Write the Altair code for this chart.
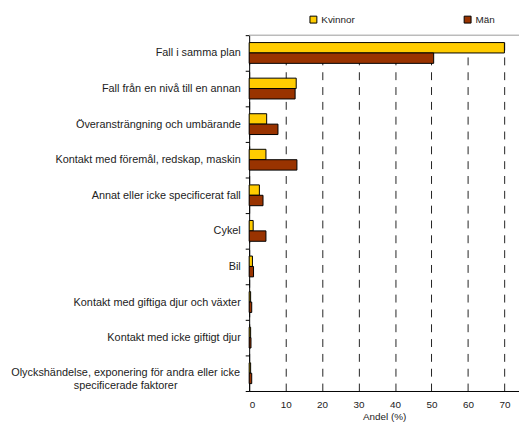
import altair as alt
import pandas as pd

categories = [
    "Fall i samma plan",
    "Fall från en nivå till en annan",
    "Överansträngning och umbärande",
    "Kontakt med föremål, redskap, maskin",
    "Annat eller icke specificerat fall",
    "Cykel",
    "Bil",
    "Kontakt med giftiga djur och växter",
    "Kontakt med icke giftigt djur",
    "Olyckshändelse, exponering för andra eller icke\nspecificerade faktorer",
]
kvinnor = [70.0, 12.9, 4.8, 4.6, 2.8, 1.1, 0.9, 0.4, 0.4, 0.4]
man = [50.6, 12.6, 7.9, 13.1, 3.8, 4.6, 1.2, 0.7, 0.5, 0.7]
series = ["Kvinnor", "Män"]
colors = ["#FFCC00", "#993300"]
x_ticks = [0, 10, 20, 30, 40, 50, 60, 70]

rows = []
for c, k, m in zip(categories, kvinnor, man):
    rows.append({"kategori": c, "kon": series[0], "andel": k})
    rows.append({"kategori": c, "kon": series[1], "andel": m})
df = pd.DataFrame(rows)
multi = pd.DataFrame({"kategori": [c for c in categories if "\n" in c]})

FONT = "Liberation Sans"
W, H = 273, 360

y_enc = alt.Y(
    "kategori:N",
    sort=categories,
    scale=alt.Scale(paddingInner=0, paddingOuter=0),
    axis=alt.Axis(
        title=None,
        tickBand="extent",
        labelExpr="indexof(datum.label, '\\n') >= 0 ? '' : datum.label",
        labelFont=FONT,
        labelFontSize=11,
        labelColor="#222",
        labelPadding=5,
        labelLimit=300,
        tickColor="black",
        tickSize=4,
        domainColor="black",
        grid=False,
    ),
)

bars = alt.Chart(df).mark_bar(stroke="black", strokeWidth=1).encode(
    y=y_enc,
    yOffset=alt.YOffset(
        "kon:N", sort=series, scale=alt.Scale(paddingInner=0, paddingOuter=0.71)
    ),
    x=alt.X(
        "andel:Q",
        scale=alt.Scale(domain=[0, 74], nice=False),
        axis=alt.Axis(
            values=x_ticks,
            grid=True,
            gridDash=[8, 7],
            gridColor="#222",
            gridWidth=1,
            ticks=False,
            domainColor="black",
            title="Andel (%)",
            titleFont=FONT,
            titleFontSize=10,
            titleFontWeight="normal",
            titleColor="#222",
            titlePadding=2,
            labelFont=FONT,
            labelFontSize=10,
            labelColor="#222",
            labelPadding=9,
            format="d",
        ),
    ),
    color=alt.Color(
        "kon:N",
        scale=alt.Scale(domain=series, range=colors),
        legend=alt.Legend(
            title=None,
            orient="none",
            legendX=60,
            legendY=-21,
            direction="horizontal",
            symbolType="square",
            symbolSize=49,
            symbolStrokeColor="black",
            symbolStrokeWidth=1,
            labelFont=FONT,
            labelFontSize=10,
            labelColor="#222",
            labelOffset=3,
            columnPadding=108,
        ),
    ),
)

multi_label = alt.Chart(multi).mark_text(
    font=FONT, fontSize=11, color="#222", align="center", baseline="middle",
    lineBreak="\n", lineHeight=13,
).encode(
    y=alt.Y("kategori:N", sort=categories),
    x=alt.value(-125),
    text="kategori:N",
)

top = alt.Chart(pd.DataFrame({"a": [0]})).mark_rule(color="#999", strokeWidth=1).encode(
    x=alt.value(0), x2=alt.value(W), y=alt.value(0)
)

chart = alt.layer(bars, multi_label, top).properties(
    width=W,
    height=H,
    autosize="none",
    padding={"left": 244, "top": 25, "right": 0, "bottom": 40},
).configure_view(stroke=None)

chart.save("out.html", embed_options={"renderer": "svg", "actions": False})
